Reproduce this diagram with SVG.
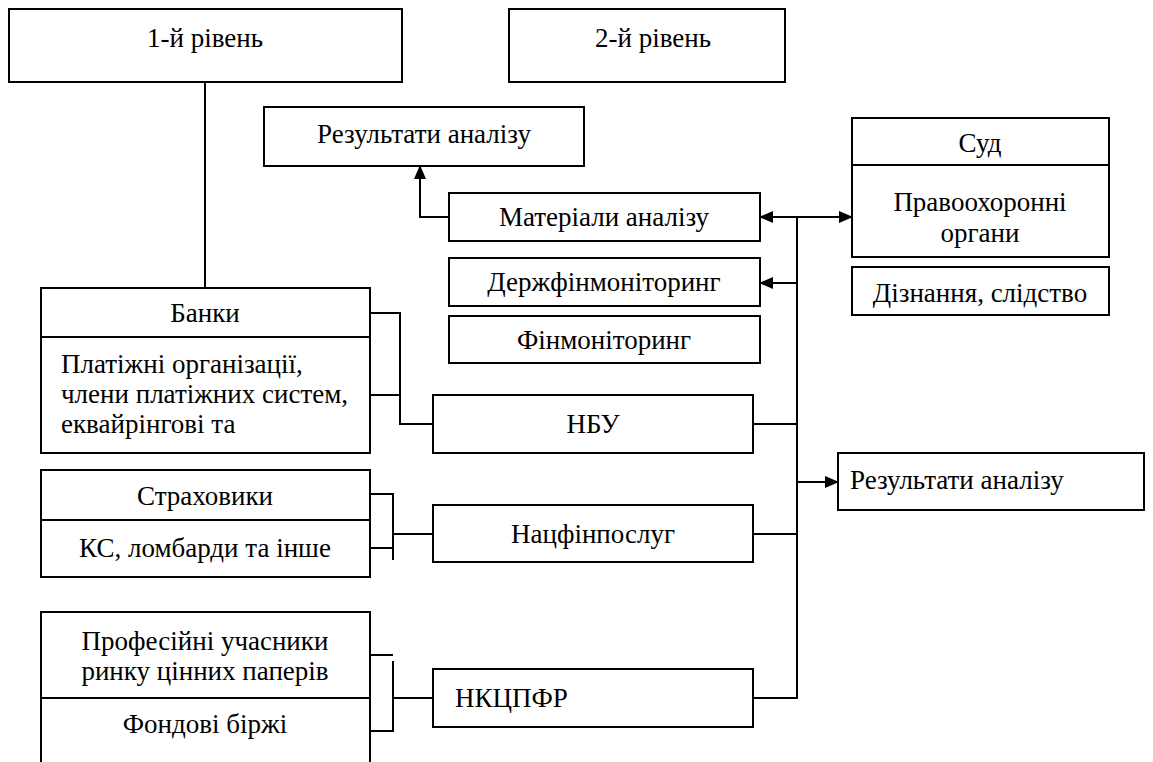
<svg xmlns="http://www.w3.org/2000/svg" width="1153" height="762" viewBox="0 0 1153 762">
<style>
.b{fill:#fff;stroke:#000;stroke-width:2}
.c{text-anchor:middle}
.l{fill:none;stroke:#000;stroke-width:2}
</style>
<defs>
<marker id="ah" markerUnits="userSpaceOnUse" markerWidth="14" markerHeight="12" refX="13" refY="6" orient="auto">
<path d="M0,0 L14,6 L0,12 Z" fill="#000"/>
</marker>
</defs>
<rect width="1153" height="762" fill="#fff"/>
<g font-size="27" fill="#000" font-family="'Liberation Serif', Tinos, 'Times New Roman', 'Noto Serif', FreeSerif, 'DejaVu Serif', serif">
<g id="level1"><rect class="b" x="9" y="9" width="393" height="73"/><text class="c" x="205" y="47">1-й рівень</text></g>
<g id="level2"><rect class="b" x="509" y="9" width="276" height="73"/><text class="c" x="653" y="47">2-й рівень</text></g>
<g id="results-top"><rect class="b" x="264" y="107" width="320" height="59"/><text class="c" x="424" y="143">Результати аналізу</text></g>
<g id="materials"><rect class="b" x="449" y="193" width="311" height="48"/><text class="c" x="604" y="226">Матеріали аналізу</text></g>
<g id="derzh"><rect class="b" x="449" y="258" width="311" height="48"/><text class="c" x="604" y="291">Держфінмоніторинг</text></g>
<g id="finmon"><rect class="b" x="449" y="316" width="311" height="47"/><text class="c" x="604" y="349">Фінмоніторинг</text></g>
<g id="court"><rect class="b" x="852" y="118" width="257" height="47"/><text class="c" x="980" y="152">Суд</text>
<rect class="b" x="852" y="165" width="257" height="92"/><text class="c" x="980" y="211">Правоохоронні</text><text class="c" x="980" y="242">органи</text></g>
<g id="inquiry"><rect class="b" x="852" y="267" width="257" height="48"/><text class="c" x="980" y="302">Дізнання, слідство</text></g>
<g id="banks"><rect class="b" x="41" y="288" width="329" height="165"/><line class="l" x1="41" y1="337" x2="370" y2="337"/><text class="c" x="205" y="322">Банки</text>
<text x="61" y="373">Платіжні організації,</text><text x="61" y="403">члени платіжних систем,</text><text x="61" y="433">еквайрінгові та</text></g>
<g id="nbu"><rect class="b" x="433" y="395" width="320" height="58"/><text class="c" x="593" y="433">НБУ</text></g>
<g id="results-right"><rect class="b" x="838" y="453" width="306" height="57"/><text x="850" y="489">Результати аналізу</text></g>
<g id="insurers"><rect class="b" x="41" y="470" width="329" height="107"/><line class="l" x1="41" y1="520" x2="370" y2="520"/><text class="c" x="205" y="505">Страховики</text><text class="c" x="205" y="557">КС, ломбарди та інше</text></g>
<g id="natsfin"><rect class="b" x="433" y="505" width="320" height="57"/><text class="c" x="593" y="543">Нацфінпослуг</text></g>
<g id="securities"><rect class="b" x="41" y="612" width="329" height="160"/><line class="l" x1="41" y1="698" x2="370" y2="698"/><text class="c" x="205" y="650">Професійні учасники</text><text class="c" x="205" y="680">ринку цінних паперів</text><text class="c" x="205" y="733">Фондові біржі</text></g>
<g id="nkcpfr"><rect class="b" x="433" y="669" width="320" height="58"/><text x="455" y="707">НКЦПФР</text></g>
</g>
<g id="connectors">
<path class="l" d="M205,82 V288"/>
<path class="l" d="M449,217 H420 V166" marker-end="url(#ah)"/>
<path class="l" d="M797,217 V698 H753"/>
<path class="l" d="M797,217 H760" marker-end="url(#ah)"/>
<path class="l" d="M797,217 H852" marker-end="url(#ah)"/>
<path class="l" d="M797,283 H760" marker-end="url(#ah)"/>
<path class="l" d="M753,424 H797"/>
<path class="l" d="M753,534 H797"/>
<path class="l" d="M797,482 H838" marker-end="url(#ah)"/>
<path class="l" d="M370,313 H400 V424 H433 M370,395 H400"/>
<path class="l" d="M370,494 H393 V560 M370,548 H393 M393,534 H433"/>
<path class="l" d="M370,655 H393 M393,661 V731 H370 M393,698 H433"/>
</g>
</svg>
